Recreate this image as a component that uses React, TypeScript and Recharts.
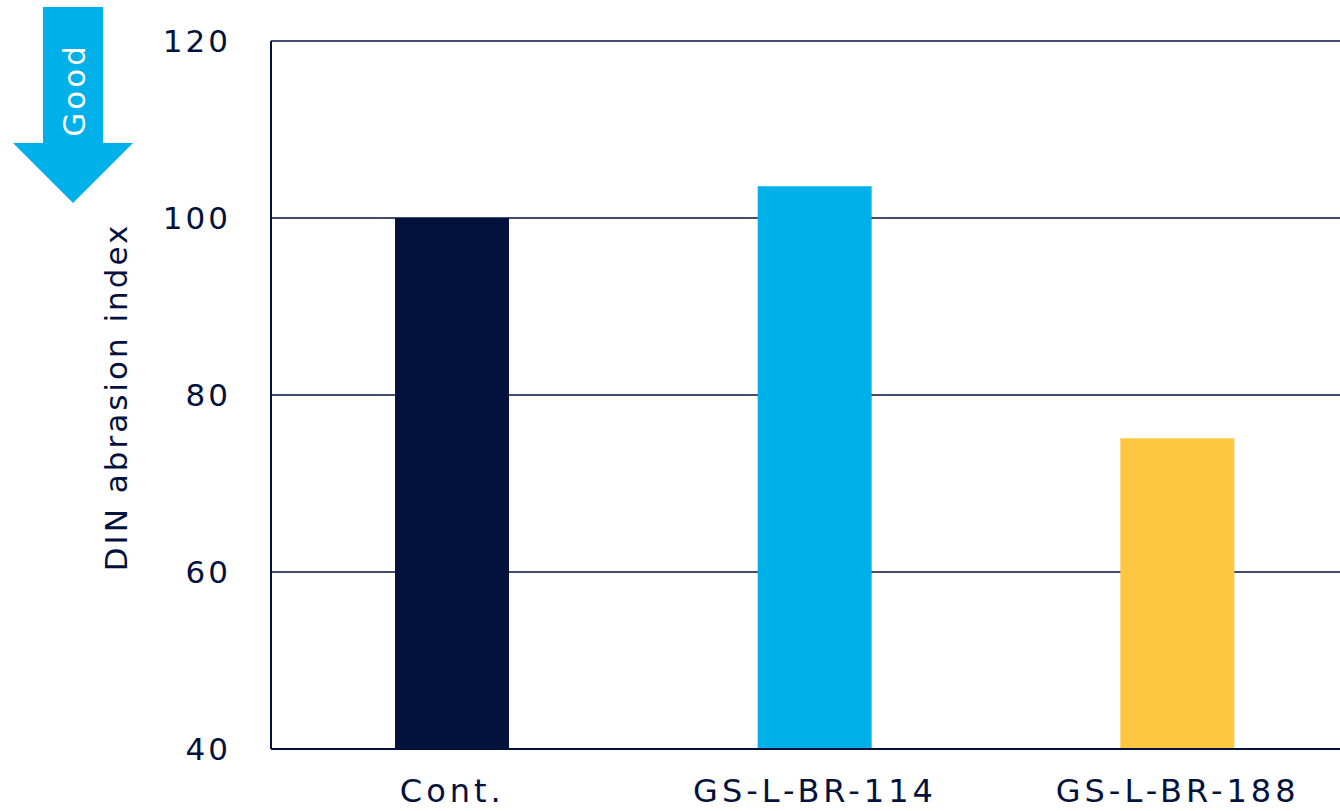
import React from 'react';
import { BarChart, Bar, XAxis, YAxis, CartesianGrid, Cell, Label } from 'recharts';

const categories = ['Cont.', 'GS-L-BR-114', 'GS-L-BR-188'];
const abrasionIndex = [100, 103.6, 75.1];
const barColors = ['#03123c', '#00b0e8', '#fec742'];
const yTicks = [40, 60, 80, 100, 120];

const NAVY = '#03123c';
const FONT = "'DejaVu Sans', sans-serif";

const data = categories.map((name, i) => ({ name, value: abrasionIndex[i] }));

// Blue "Good" arrow pointing down (lower is better)
const GoodArrow: React.FC = () => (
  <svg
    width={150}
    height={210}
    style={{ position: 'absolute', left: 0, top: 0, pointerEvents: 'none' }}
  >
    <polygon points="43,7 103,7 103,143 133,143 73,203 13,143 43,143" fill="#00b0e8" />
    <text
      x={74}
      y={90}
      transform="rotate(-90 74 90)"
      textAnchor="middle"
      dominantBaseline="central"
      fill="#ffffff"
      fontFamily={FONT}
      fontSize={31}
      letterSpacing={3}
    >
      Good
    </text>
  </svg>
);

const App: React.FC = () => {
  return (
    <div
      style={{
        position: 'absolute',
        left: 0,
        top: 0,
        width: 1340,
        height: 811,
        overflow: 'hidden',
        background: '#ffffff',
      }}
    >
      <BarChart
        width={1359}
        height={811}
        data={data}
        margin={{ top: 41, right: 0, bottom: 0, left: 0 }}
      >
        <CartesianGrid vertical={false} stroke={NAVY} strokeWidth={1.5} />
        <XAxis
          dataKey="name"
          height={62}
          tickSize={0}
          tickMargin={30}
          axisLine={{ stroke: NAVY, strokeWidth: 2 }}
          tick={{ fill: NAVY, fontFamily: FONT, fontSize: 32, letterSpacing: 4 }}
        />
        <YAxis
          width={271}
          domain={[40, 120]}
          ticks={yTicks}
          tickSize={0}
          tickMargin={40}
          axisLine={{ stroke: NAVY, strokeWidth: 2 }}
          tick={{ fill: NAVY, fontFamily: FONT, fontSize: 31, letterSpacing: 3 }}
        >
          <Label
            content={(props: any) => {
              const vb = props.viewBox || {};
              const cy = (vb.y ?? 0) + (vb.height ?? 0) / 2 + 2;
              return (
                <text
                  x={116}
                  y={cy}
                  transform={`rotate(-90 116 ${cy})`}
                  textAnchor="middle"
                  dominantBaseline="central"
                  fill={NAVY}
                  fontFamily={FONT}
                  fontSize={31}
                  letterSpacing={3}
                >
                  DIN abrasion index
                </text>
              );
            }}
          />
        </YAxis>
        <Bar dataKey="value" barSize={114} isAnimationActive={false}>
          {data.map((d, i) => (
            <Cell key={d.name} fill={barColors[i]} />
          ))}
        </Bar>
      </BarChart>
      <GoodArrow />
    </div>
  );
};

export default App;
